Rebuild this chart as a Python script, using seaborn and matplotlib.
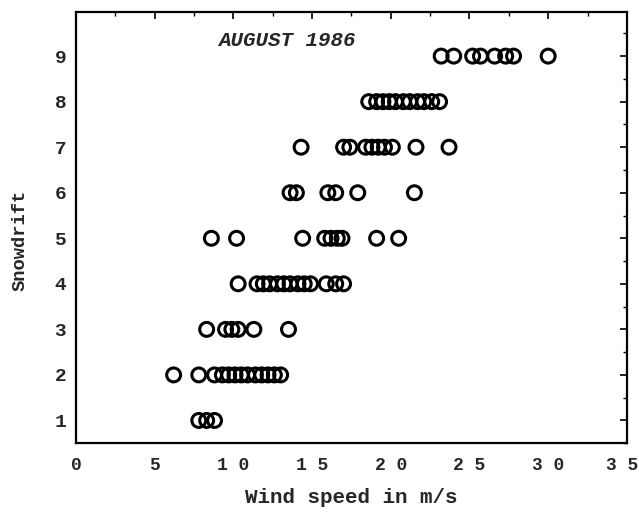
import matplotlib
matplotlib.use("Agg")
import matplotlib.pyplot as plt
from matplotlib.ticker import MultipleLocator, FixedLocator
from matplotlib.transforms import ScaledTranslation
import seaborn as sns
import pandas as pd

# Wind speed (m/s) observed for each snowdrift class
speed_1 = [7.8, 8.3, 8.8]
speed_2 = [6.2, 7.8, 8.8, 9.3, 9.7, 10.1, 10.5, 10.9, 11.4, 11.8, 12.2, 12.6, 13.0]
speed_3 = [8.3, 9.5, 9.9, 10.3, 11.3, 13.5]
speed_4 = [10.3, 11.5, 11.9, 12.3, 12.8, 13.2, 13.6, 14.1, 14.5, 14.9, 15.9, 16.5, 17.0]
speed_5 = [8.6, 10.2, 14.4, 15.8, 16.2, 16.6, 16.9, 19.1, 20.5]
speed_6 = [13.6, 14.0, 16.0, 16.5, 17.9, 21.5]
speed_7 = [14.3, 17.0, 17.4, 18.4, 18.8, 19.2, 19.6, 20.1, 21.6, 23.7]
speed_8 = [18.6, 19.1, 19.5, 19.9, 20.3, 20.8, 21.2, 21.7, 22.1, 22.6, 23.1]
speed_9 = [23.2, 24.0, 25.2, 25.7, 26.6, 27.3, 27.8, 30.0]

snowdrift_classes = [1, 2, 3, 4, 5, 6, 7, 8, 9]
x_ticks = [0, 5, 10, 15, 20, 25, 30, 35]
x_tick_labels = ["0", "5", "1 0", "1 5", "2 0", "2 5", "3 0", "3 5"]
title_text = "AUGUST 1986"

groups = [speed_1, speed_2, speed_3, speed_4, speed_5, speed_6, speed_7, speed_8, speed_9]
df = pd.DataFrame(
    [(w, c) for c, ws in zip(snowdrift_classes, groups) for w in ws],
    columns=["wind", "snowdrift"],
)

sns.set_style("white")
mono = ["Liberation Mono", "DejaVu Sans Mono"]
plt.rcParams["font.family"] = mono

fig = plt.figure(figsize=(6.39, 5.19), dpi=100)
ax = fig.add_axes([0.119, 0.146, 0.862, 0.831])

sns.scatterplot(
    data=df, x="wind", y="snowdrift", ax=ax,
    marker="o", s=100, facecolors="none", edgecolor="black", linewidth=2.2,
    legend=False,
)

ax.set_xlim(0, 35)
ax.set_ylim(0.5, 9.97)
ax.xaxis.set_major_locator(FixedLocator(x_ticks))
ax.set_xticklabels(x_tick_labels)
ax.xaxis.set_minor_locator(MultipleLocator(2.5))
ax.yaxis.set_major_locator(FixedLocator(snowdrift_classes))
ax.yaxis.set_minor_locator(MultipleLocator(0.5))

ax.tick_params(which="both", direction="in", top=True, right=True, color="black")
ax.tick_params(which="major", length=5, width=1.2)
ax.tick_params(axis="x", which="major", labelsize=13, pad=10)
ax.tick_params(axis="y", which="major", labelsize=14, pad=7)
ax.tick_params(which="minor", length=3, width=1.0)
for lab in ax.get_xticklabels() + ax.get_yticklabels():
    lab.set_fontweight("bold")

# keep the rightmost x label inside the figure edge
last = ax.get_xticklabels()[-1]
last.set_transform(last.get_transform() + ScaledTranslation(-5 / 100, 0, fig.dpi_scale_trans))

for side in ax.spines.values():
    side.set_visible(True)
    side.set_color("black")
    side.set_linewidth(1.6)

ax.set_xlabel("Wind speed in m/s", fontsize=15, fontweight="bold", labelpad=10)
ax.set_ylabel("Snowdrift", fontsize=13.5, fontweight="bold")
ax.yaxis.set_label_coords(-0.086, 0.47)

ax.text(9.0, 9.35, title_text, fontsize=15, fontweight="bold", fontstyle="italic",
        ha="left", va="center")

fig.savefig("out.png", dpi=100)
